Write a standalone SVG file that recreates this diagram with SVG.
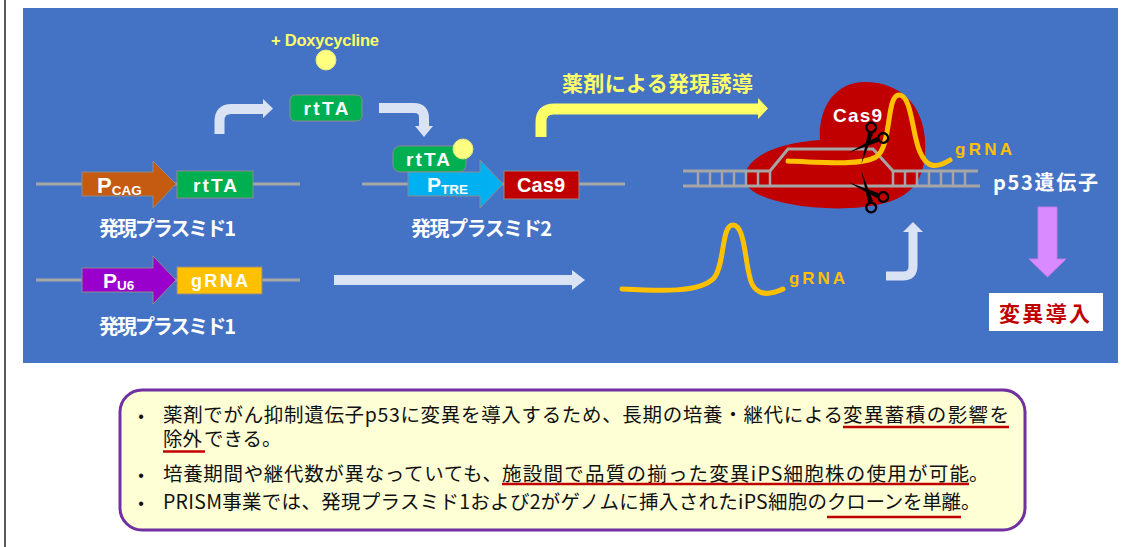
<svg xmlns="http://www.w3.org/2000/svg" width="1121" height="547" viewBox="0 0 1121 547">
  <style>
    .lat{font-family:"Liberation Sans",Arial,sans-serif;font-weight:bold;fill:#ffffff}
    .jp{font-family:"Noto Sans CJK JP","Noto Sans",sans-serif;font-weight:bold;fill:#ffffff}
    .yel{fill:#ffff66}
    .org{fill:#ffc000}
    .part{stroke:#8c8c8c;stroke-width:1}
    .strand{stroke:#a6a6a6;stroke-width:3;fill:none}
    .rung{stroke:#a6a6a6;stroke-width:2.5}
    .pale{fill:none;stroke:#dae3f3}
    .paleHead{fill:#dae3f3}
    .rna{fill:none;stroke:#ffc000;stroke-width:5;stroke-linecap:round;stroke-linejoin:round}
    .body{font-family:"Noto Sans CJK JP","Noto Sans",sans-serif;font-size:19.5px;fill:#111111}
    .bul{font-family:"Liberation Sans",Arial,sans-serif;font-size:16px;fill:#111111}
    .ul{stroke:#c00000;stroke-width:2.5}
  </style>
  <defs>
    <!-- scissors icon: pivot at origin, blades pointing left -->
    <symbol id="scissors" overflow="visible">
      <polygon points="7.5,2.4 -23,-8.5 5.2,7" fill="#000"/>
      <polygon points="7.5,-2.4 -23,8.5 5.2,-7" fill="#000"/>
      <circle cx="11" cy="-8" r="4.8" fill="none" stroke="#000" stroke-width="2.4"/>
      <circle cx="11" cy="8" r="4.8" fill="none" stroke="#000" stroke-width="2.4"/>
    </symbol>
  </defs>

  <!-- page frame -->
  <rect width="1121" height="547" fill="#ffffff"/>
  <line x1="5" y1="0" x2="5" y2="547" stroke="#595959" stroke-width="2"/>
  <rect x="23" y="8" width="1095" height="355" fill="#4472c4"/>

  <!-- plasmid 1 (rtTA) -->
  <g id="plasmid1-rtta">
    <line x1="36" y1="184" x2="300" y2="184" class="strand"/>
    <polygon points="82,172 153,172 153,161 176,184 153,208 153,196 82,196" fill="#c55a11" class="part"/>
    <text x="97" y="193" class="lat" font-size="22">P<tspan font-size="13.5" dy="1.5">CAG</tspan></text>
    <rect x="177" y="171" width="76" height="27" fill="#00b050" class="part"/>
    <text x="193" y="192" class="lat" font-size="19" textLength="44">rtTA</text>
    <text x="99" y="236" class="jp" font-size="20" textLength="137">発現プラスミド1</text>
  </g>

  <!-- plasmid 1 (gRNA) -->
  <g id="plasmid1-grna">
    <line x1="36" y1="280" x2="300" y2="280" class="strand"/>
    <polygon points="82,268 153,268 153,256 176,280 153,304 153,292 82,292" fill="#9900cc" class="part"/>
    <text x="103" y="288" class="lat" font-size="21">P<tspan font-size="13.5" dy="1.5">U6</tspan></text>
    <rect x="177" y="267" width="85" height="27" fill="#ffc000" class="part"/>
    <text x="191" y="287" class="lat" font-size="18" textLength="57">gRNA</text>
    <text x="99" y="334" class="jp" font-size="20" textLength="137">発現プラスミド1</text>
  </g>

  <!-- free rtTA and doxycycline -->
  <g id="doxycycline">
    <text x="271" y="46" class="lat yel" font-size="16.5" textLength="108">+ Doxycycline</text>
    <circle cx="326" cy="60" r="10" fill="#ffff80" stroke="#e8e87a" stroke-width="1"/>
  </g>
  <g id="rtta-free">
    <rect x="290" y="95" width="72" height="26" rx="5" fill="#00b050" class="part"/>
    <text x="303.5" y="115" class="lat" font-size="19" textLength="45">rtTA</text>
  </g>

  <!-- plasmid 2 (Cas9) -->
  <g id="plasmid2">
    <line x1="362" y1="184" x2="625" y2="184" class="strand"/>
    <rect x="393" y="146" width="73" height="26" rx="7" fill="#00b050" class="part"/>
    <text x="406" y="166" class="lat" font-size="19" textLength="44">rtTA</text>
    <circle cx="463" cy="149" r="10" fill="#ffff80" stroke="#e8e87a" stroke-width="1"/>
    <polygon points="408,172 480,172 480,160 503,184 480,208 480,196 408,196" fill="#00b0f0" class="part"/>
    <text x="427" y="192" class="lat" font-size="21">P<tspan font-size="13.5" dy="1.5">TRE</tspan></text>
    <rect x="504" y="171" width="75" height="28" fill="#c00000" class="part"/>
    <text x="517" y="192" class="lat" font-size="20" textLength="48">Cas9</text>
    <text x="411" y="236" class="jp" font-size="20" textLength="141">発現プラスミド2</text>
  </g>

  <text x="562" y="91" class="jp yel" font-size="21" textLength="191">薬剤による発現誘導</text>

  <!-- Cas9 / gRNA complex on the p53 locus -->
  <g id="cas9-complex">
    <path d="M745,178 C745,158 775,143 820,140 C818,108 835,82 865,82 C900,82 923,105 925,140 C927,175 915,195 885,203 C860,210 820,210 790,204 C760,198 745,190 745,178 Z" fill="#c00000"/>
    <path d="M683,171 H770 L788,149 H873 L893,171 H978" class="strand"/>
    <line x1="683" y1="186" x2="980" y2="186" class="strand"/>
    <g class="rung">
      <line x1="698" y1="171" x2="698" y2="186"/>
      <line x1="710" y1="171" x2="710" y2="186"/>
      <line x1="722" y1="171" x2="722" y2="186"/>
      <line x1="734" y1="171" x2="734" y2="186"/>
      <line x1="746" y1="171" x2="746" y2="186"/>
      <line x1="758" y1="171" x2="758" y2="186"/>
      <line x1="770" y1="171" x2="770" y2="186"/>
      <line x1="893" y1="171" x2="893" y2="186"/>
      <line x1="905" y1="171" x2="905" y2="186"/>
      <line x1="917" y1="171" x2="917" y2="186"/>
      <line x1="929" y1="171" x2="929" y2="186"/>
      <line x1="941" y1="171" x2="941" y2="186"/>
      <line x1="953" y1="171" x2="953" y2="186"/>
      <line x1="965" y1="171" x2="965" y2="186"/>
    </g>
    <path d="M788,161 C830,163 862,165 876,157 C892,147 886,95 899,95 C912,95 912,135 920,152 C926,166 934,170 950,160" class="rna"/>
    <use href="#scissors" transform="translate(870,141) rotate(-49)"/>
    <use href="#scissors" transform="translate(870,194) rotate(49)"/>
    <text x="833" y="122" class="lat" font-size="19" textLength="49">Cas9</text>
    <text x="955" y="155" class="lat org" font-size="17" textLength="57">gRNA</text>
    <text x="993" y="190" class="jp" font-size="20" textLength="105">p53遺伝子</text>
  </g>

  <!-- free gRNA transcript -->
  <g id="grna-free">
    <path d="M622,289 C660,291 700,293 714,278 C725,265 721,225 733,225 C746,225 745,270 752,284 C758,296 770,295 783,289" class="rna"/>
    <text x="789" y="284" class="lat org" font-size="17" textLength="56">gRNA</text>
  </g>

  <!-- result -->
  <g id="mutation">
    <rect x="989" y="293" width="114" height="38" fill="#ffffff"/>
    <text x="999" y="321" class="jp" font-size="21" style="fill:#c00000" textLength="91">変異導入</text>
  </g>

  <!-- connectors -->
  <g id="connectors">
    <path d="M219.5,134 V121 Q219.5,109 231.5,109 H264" class="pale" stroke-width="10"/>
    <polygon points="263,99 273,108.5 263,118" class="paleHead"/>
    <path d="M379,108 H414 Q424,108 424,118 V126" class="pale" stroke-width="10"/>
    <polygon points="415,126 433,126 424,137" class="paleHead"/>
    <path d="M541,137 V122 Q541,109 554,109 H759" fill="none" stroke="#ffff66" stroke-width="11"/>
    <polygon points="758,98 768,108.5 758,119" fill="#ffff66"/>
    <path d="M334,280 H573" class="pale" stroke-width="10"/>
    <polygon points="572,270 585,280 572,290" class="paleHead"/>
    <path d="M886,276 H903 Q913,276 913,266 V231" class="pale" stroke-width="9"/>
    <polygon points="903,232 923,232 913,222" class="paleHead"/>
    <polygon points="1038,207 1057,207 1057,259 1066,259 1047.5,277 1029,259 1038,259" fill="#da8aff" stroke="#c07ae8" stroke-width="1"/>
  </g>

  <!-- summary box -->
  <g id="summary">
    <rect x="120" y="390" width="905" height="140" rx="22" fill="#ffffd6" stroke="#7030a0" stroke-width="3"/>
    <text x="141" y="422" class="bul" text-anchor="middle">•</text>
    <text x="141" y="481" class="bul" text-anchor="middle">•</text>
    <text x="141" y="509" class="bul" text-anchor="middle">•</text>
    <text y="422" class="body"><tspan x="163" textLength="680">薬剤でがん抑制遺伝子p53に変異を導入するため、長期の培養・継代による</tspan><tspan x="843" textLength="166">変異蓄積の影響を</tspan></text>
    <text y="446" class="body"><tspan x="163">除外</tspan><tspan x="204">できる。</tspan></text>
    <text y="481" class="body"><tspan x="163" textLength="339">培養期間や継代数が異なっていても、</tspan><tspan x="502" textLength="467">施設間で品質の揃った変異iPS細胞株の使用が可能</tspan><tspan x="969">。</tspan></text>
    <text y="509" class="body"><tspan x="163" textLength="664">PRISM事業では、発現プラスミド1および2がゲノムに挿入されたiPS細胞の</tspan><tspan x="827" textLength="134">クローンを単離</tspan><tspan x="961">。</tspan></text>
    <line x1="843" y1="427" x2="1009" y2="427" class="ul"/>
    <line x1="163" y1="451.5" x2="205" y2="451.5" class="ul"/>
    <line x1="502" y1="484" x2="969" y2="484" class="ul"/>
    <line x1="827" y1="517" x2="961" y2="517" class="ul"/>
  </g>
</svg>
